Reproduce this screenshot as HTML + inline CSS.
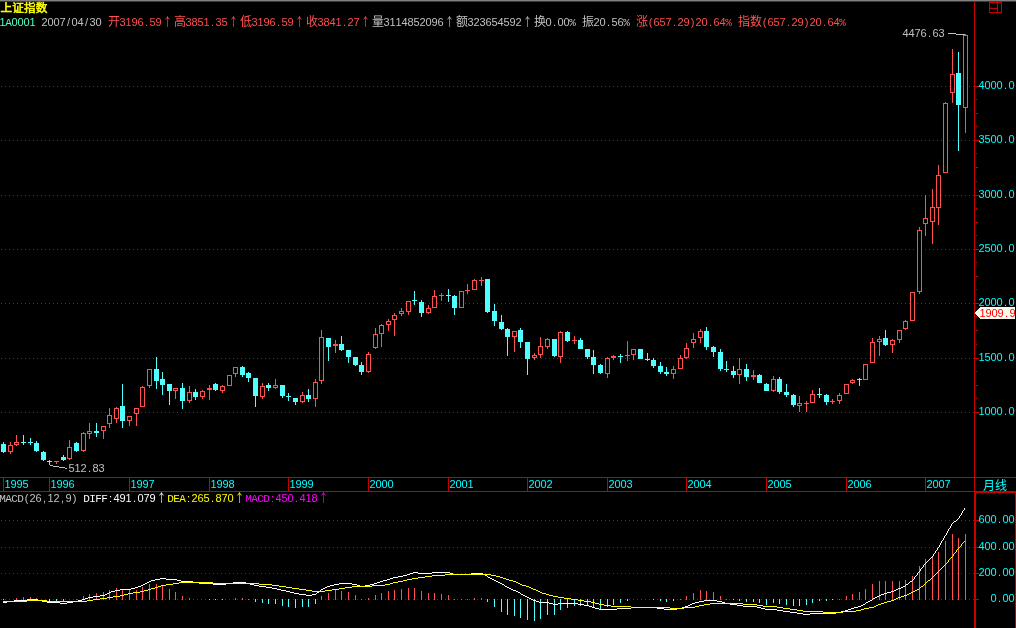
<!DOCTYPE html>
<html lang="zh"><head><meta charset="utf-8"><title>上证指数 月线</title>
<style>html,body{margin:0;padding:0;background:#000;overflow:hidden}svg{display:block}text{white-space:pre}</style></head>
<body><svg width="1016" height="628" viewBox="0 0 1016 628" shape-rendering="crispEdges">
<rect width="1016" height="628" fill="#000"/>
<rect x="0" y="0" width="1016" height="1" fill="#808080"/>
<rect x="0" y="1" width="1016" height="1" fill="#c80000"/>
<rect x="974" y="2" width="1" height="489" fill="#c80000"/>
<rect x="974" y="491" width="2" height="137" fill="#c80000"/>
<rect x="0" y="477" width="1016" height="1" fill="#c80000"/>
<rect x="0" y="491" width="974" height="1" fill="#c80000"/>
<rect x="974" y="491" width="42" height="2" fill="#c80000"/>
<rect x="1015" y="491" width="1" height="137" fill="#c80000"/>
<rect x="989" y="2" width="13" height="1" fill="#c80000"/>
<rect x="989" y="12" width="13" height="1" fill="#c80000"/>
<rect x="989" y="2" width="1" height="11" fill="#c80000"/>
<rect x="1001" y="2" width="1" height="11" fill="#c80000"/>
<rect x="997" y="2" width="1" height="11" fill="#c80000"/>
<rect x="989" y="8" width="9" height="1" fill="#c80000"/>
<path d="M1 86.5H974" stroke="#c80000" stroke-width="1" stroke-dasharray="1 3" fill="none"/>
<rect x="973" y="86" width="6" height="1" fill="#c80000"/>
<text x="981.6 987.6 993.6 999.6 1005.6 1011.6" y="89" text-anchor="middle" font-family='"Liberation Sans", sans-serif' font-size="11" fill="#00ffff">4000.0</text>
<path d="M1 140.5H974" stroke="#c80000" stroke-width="1" stroke-dasharray="1 3" fill="none"/>
<rect x="973" y="140" width="6" height="1" fill="#c80000"/>
<text x="981.6 987.6 993.6 999.6 1005.6 1011.6" y="143" text-anchor="middle" font-family='"Liberation Sans", sans-serif' font-size="11" fill="#00ffff">3500.0</text>
<path d="M1 195.5H974" stroke="#c80000" stroke-width="1" stroke-dasharray="1 3" fill="none"/>
<rect x="973" y="195" width="6" height="1" fill="#c80000"/>
<text x="981.6 987.6 993.6 999.6 1005.6 1011.6" y="198" text-anchor="middle" font-family='"Liberation Sans", sans-serif' font-size="11" fill="#00ffff">3000.0</text>
<path d="M1 249.5H974" stroke="#c80000" stroke-width="1" stroke-dasharray="1 3" fill="none"/>
<rect x="973" y="249" width="6" height="1" fill="#c80000"/>
<text x="981.6 987.6 993.6 999.6 1005.6 1011.6" y="252" text-anchor="middle" font-family='"Liberation Sans", sans-serif' font-size="11" fill="#00ffff">2500.0</text>
<path d="M1 303.5H974" stroke="#c80000" stroke-width="1" stroke-dasharray="1 3" fill="none"/>
<rect x="973" y="303" width="6" height="1" fill="#c80000"/>
<text x="981.6 987.6 993.6 999.6 1005.6 1011.6" y="306" text-anchor="middle" font-family='"Liberation Sans", sans-serif' font-size="11" fill="#00ffff">2000.0</text>
<path d="M1 358.5H974" stroke="#c80000" stroke-width="1" stroke-dasharray="1 3" fill="none"/>
<rect x="973" y="358" width="6" height="1" fill="#c80000"/>
<text x="981.6 987.6 993.6 999.6 1005.6 1011.6" y="361" text-anchor="middle" font-family='"Liberation Sans", sans-serif' font-size="11" fill="#00ffff">1500.0</text>
<path d="M1 412.5H974" stroke="#c80000" stroke-width="1" stroke-dasharray="1 3" fill="none"/>
<rect x="973" y="412" width="6" height="1" fill="#c80000"/>
<text x="981.6 987.6 993.6 999.6 1005.6 1011.6" y="415" text-anchor="middle" font-family='"Liberation Sans", sans-serif' font-size="11" fill="#00ffff">1000.0</text>
<rect x="976" y="99" width="1" height="1" fill="#c80000"/>
<rect x="976" y="113" width="2" height="1" fill="#c80000"/>
<rect x="976" y="126" width="1" height="1" fill="#c80000"/>
<rect x="976" y="153" width="1" height="1" fill="#c80000"/>
<rect x="976" y="167" width="2" height="1" fill="#c80000"/>
<rect x="976" y="181" width="1" height="1" fill="#c80000"/>
<rect x="976" y="208" width="1" height="1" fill="#c80000"/>
<rect x="976" y="222" width="2" height="1" fill="#c80000"/>
<rect x="976" y="235" width="1" height="1" fill="#c80000"/>
<rect x="976" y="262" width="1" height="1" fill="#c80000"/>
<rect x="976" y="276" width="2" height="1" fill="#c80000"/>
<rect x="976" y="289" width="1" height="1" fill="#c80000"/>
<rect x="976" y="316" width="1" height="1" fill="#c80000"/>
<rect x="976" y="330" width="2" height="1" fill="#c80000"/>
<rect x="976" y="344" width="1" height="1" fill="#c80000"/>
<rect x="976" y="371" width="1" height="1" fill="#c80000"/>
<rect x="976" y="385" width="2" height="1" fill="#c80000"/>
<rect x="976" y="398" width="1" height="1" fill="#c80000"/>
<path d="M1 520.5H974" stroke="#c80000" stroke-width="1" stroke-dasharray="1 3" fill="none"/>
<rect x="973" y="520" width="6" height="1" fill="#c80000"/>
<text x="981.6 987.6 993.6 999.6 1005.6 1011.6" y="523" text-anchor="middle" font-family='"Liberation Sans", sans-serif' font-size="11" fill="#00ffff">600.00</text>
<path d="M1 547.5H974" stroke="#c80000" stroke-width="1" stroke-dasharray="1 3" fill="none"/>
<rect x="973" y="547" width="6" height="1" fill="#c80000"/>
<text x="981.6 987.6 993.6 999.6 1005.6 1011.6" y="550" text-anchor="middle" font-family='"Liberation Sans", sans-serif' font-size="11" fill="#00ffff">400.00</text>
<path d="M1 573.5H974" stroke="#c80000" stroke-width="1" stroke-dasharray="1 3" fill="none"/>
<rect x="973" y="573" width="6" height="1" fill="#c80000"/>
<text x="981.6 987.6 993.6 999.6 1005.6 1011.6" y="576" text-anchor="middle" font-family='"Liberation Sans", sans-serif' font-size="11" fill="#00ffff">200.00</text>
<path d="M1 599.5H974" stroke="#c80000" stroke-width="1" stroke-dasharray="1 3" fill="none"/>
<rect x="973" y="599" width="6" height="1" fill="#c80000"/>
<text x="993.6 999.6 1005.6 1011.6" y="602" text-anchor="middle" font-family='"Liberation Sans", sans-serif' font-size="11" fill="#00ffff">0.00</text>
<rect x="3" y="442" width="1" height="11" fill="#50ffff"/>
<rect x="1" y="444" width="5" height="8" fill="#50ffff"/>
<rect x="10" y="442" width="1" height="3" fill="#ff5050"/>
<rect x="10" y="452" width="1" height="2" fill="#ff5050"/>
<rect x="8" y="445" width="5" height="7" fill="#ff5050"/>
<rect x="9" y="446" width="3" height="5" fill="#000"/>
<rect x="16" y="435" width="1" height="7" fill="#ff5050"/>
<rect x="16" y="445" width="1" height="1" fill="#ff5050"/>
<rect x="14" y="442" width="5" height="3" fill="#ff5050"/>
<rect x="15" y="443" width="3" height="1" fill="#000"/>
<rect x="23" y="435" width="1" height="10" fill="#50ffff"/>
<rect x="21" y="442" width="5" height="1" fill="#50ffff"/>
<rect x="30" y="438" width="1" height="7" fill="#50ffff"/>
<rect x="28" y="442" width="5" height="1" fill="#50ffff"/>
<rect x="36" y="441" width="1" height="11" fill="#50ffff"/>
<rect x="34" y="443" width="5" height="8" fill="#50ffff"/>
<rect x="43" y="451" width="1" height="10" fill="#50ffff"/>
<rect x="41" y="452" width="5" height="8" fill="#50ffff"/>
<rect x="49" y="460" width="1" height="5" fill="#50ffff"/>
<rect x="47" y="461" width="5" height="1" fill="#50ffff"/>
<rect x="56" y="462" width="1" height="2" fill="#ff5050"/>
<rect x="54" y="461" width="5" height="1" fill="#ff5050"/>
<rect x="63" y="455" width="1" height="6" fill="#50ffff"/>
<rect x="61" y="457" width="5" height="3" fill="#50ffff"/>
<rect x="69" y="440" width="1" height="7" fill="#ff5050"/>
<rect x="69" y="459" width="1" height="1" fill="#ff5050"/>
<rect x="67" y="447" width="5" height="12" fill="#ff5050"/>
<rect x="68" y="448" width="3" height="10" fill="#000"/>
<rect x="76" y="442" width="1" height="10" fill="#50ffff"/>
<rect x="74" y="443" width="5" height="8" fill="#50ffff"/>
<rect x="83" y="432" width="1" height="1" fill="#ff5050"/>
<rect x="83" y="451" width="1" height="1" fill="#ff5050"/>
<rect x="81" y="433" width="5" height="18" fill="#ff5050"/>
<rect x="82" y="434" width="3" height="16" fill="#000"/>
<rect x="89" y="423" width="1" height="8" fill="#ff5050"/>
<rect x="89" y="434" width="1" height="5" fill="#ff5050"/>
<rect x="87" y="431" width="5" height="3" fill="#ff5050"/>
<rect x="88" y="432" width="3" height="1" fill="#000"/>
<rect x="96" y="423" width="1" height="14" fill="#50ffff"/>
<rect x="94" y="431" width="5" height="2" fill="#50ffff"/>
<rect x="103" y="431" width="1" height="8" fill="#ff5050"/>
<rect x="101" y="426" width="5" height="5" fill="#ff5050"/>
<rect x="102" y="427" width="3" height="3" fill="#000"/>
<rect x="109" y="408" width="1" height="7" fill="#ff5050"/>
<rect x="109" y="424" width="1" height="4" fill="#ff5050"/>
<rect x="107" y="415" width="5" height="9" fill="#ff5050"/>
<rect x="108" y="416" width="3" height="7" fill="#000"/>
<rect x="116" y="407" width="1" height="1" fill="#ff5050"/>
<rect x="116" y="419" width="1" height="4" fill="#ff5050"/>
<rect x="114" y="408" width="5" height="11" fill="#ff5050"/>
<rect x="115" y="409" width="3" height="9" fill="#000"/>
<rect x="122" y="384" width="1" height="44" fill="#50ffff"/>
<rect x="120" y="406" width="5" height="15" fill="#50ffff"/>
<rect x="129" y="421" width="1" height="5" fill="#ff5050"/>
<rect x="127" y="416" width="5" height="5" fill="#ff5050"/>
<rect x="128" y="417" width="3" height="3" fill="#000"/>
<rect x="136" y="414" width="1" height="12" fill="#ff5050"/>
<rect x="134" y="408" width="5" height="6" fill="#ff5050"/>
<rect x="135" y="409" width="3" height="4" fill="#000"/>
<rect x="142" y="386" width="1" height="1" fill="#ff5050"/>
<rect x="140" y="387" width="5" height="20" fill="#ff5050"/>
<rect x="141" y="388" width="3" height="18" fill="#000"/>
<rect x="149" y="386" width="1" height="2" fill="#ff5050"/>
<rect x="147" y="369" width="5" height="17" fill="#ff5050"/>
<rect x="148" y="370" width="3" height="15" fill="#000"/>
<rect x="156" y="357" width="1" height="32" fill="#50ffff"/>
<rect x="154" y="369" width="5" height="12" fill="#50ffff"/>
<rect x="162" y="372" width="1" height="23" fill="#50ffff"/>
<rect x="160" y="379" width="5" height="6" fill="#50ffff"/>
<rect x="169" y="384" width="1" height="21" fill="#50ffff"/>
<rect x="167" y="384" width="5" height="7" fill="#50ffff"/>
<rect x="175" y="391" width="1" height="8" fill="#ff5050"/>
<rect x="173" y="388" width="5" height="3" fill="#ff5050"/>
<rect x="174" y="389" width="3" height="1" fill="#000"/>
<rect x="182" y="383" width="1" height="26" fill="#50ffff"/>
<rect x="180" y="388" width="5" height="13" fill="#50ffff"/>
<rect x="189" y="386" width="1" height="6" fill="#ff5050"/>
<rect x="189" y="401" width="1" height="2" fill="#ff5050"/>
<rect x="187" y="392" width="5" height="9" fill="#ff5050"/>
<rect x="188" y="393" width="3" height="7" fill="#000"/>
<rect x="195" y="389" width="1" height="11" fill="#50ffff"/>
<rect x="193" y="392" width="5" height="5" fill="#50ffff"/>
<rect x="202" y="390" width="1" height="1" fill="#ff5050"/>
<rect x="202" y="397" width="1" height="2" fill="#ff5050"/>
<rect x="200" y="391" width="5" height="6" fill="#ff5050"/>
<rect x="201" y="392" width="3" height="4" fill="#000"/>
<rect x="209" y="385" width="1" height="3" fill="#ff5050"/>
<rect x="209" y="390" width="1" height="10" fill="#ff5050"/>
<rect x="207" y="388" width="5" height="2" fill="#ff5050"/>
<rect x="215" y="383" width="1" height="8" fill="#50ffff"/>
<rect x="213" y="384" width="5" height="6" fill="#50ffff"/>
<rect x="222" y="385" width="1" height="1" fill="#ff5050"/>
<rect x="222" y="391" width="1" height="2" fill="#ff5050"/>
<rect x="220" y="386" width="5" height="5" fill="#ff5050"/>
<rect x="221" y="387" width="3" height="3" fill="#000"/>
<rect x="227" y="375" width="5" height="11" fill="#ff5050"/>
<rect x="228" y="376" width="3" height="9" fill="#000"/>
<rect x="235" y="374" width="1" height="3" fill="#ff5050"/>
<rect x="233" y="367" width="5" height="7" fill="#ff5050"/>
<rect x="234" y="368" width="3" height="5" fill="#000"/>
<rect x="242" y="366" width="1" height="11" fill="#50ffff"/>
<rect x="240" y="367" width="5" height="8" fill="#50ffff"/>
<rect x="248" y="372" width="1" height="10" fill="#50ffff"/>
<rect x="246" y="373" width="5" height="5" fill="#50ffff"/>
<rect x="255" y="378" width="1" height="29" fill="#50ffff"/>
<rect x="253" y="378" width="5" height="18" fill="#50ffff"/>
<rect x="262" y="383" width="1" height="3" fill="#ff5050"/>
<rect x="262" y="397" width="1" height="2" fill="#ff5050"/>
<rect x="260" y="386" width="5" height="11" fill="#ff5050"/>
<rect x="261" y="387" width="3" height="9" fill="#000"/>
<rect x="268" y="383" width="1" height="8" fill="#50ffff"/>
<rect x="266" y="385" width="5" height="3" fill="#50ffff"/>
<rect x="275" y="379" width="1" height="6" fill="#ff5050"/>
<rect x="275" y="388" width="1" height="1" fill="#ff5050"/>
<rect x="273" y="385" width="5" height="3" fill="#ff5050"/>
<rect x="274" y="386" width="3" height="1" fill="#000"/>
<rect x="282" y="385" width="1" height="13" fill="#50ffff"/>
<rect x="280" y="385" width="5" height="11" fill="#50ffff"/>
<rect x="288" y="393" width="1" height="8" fill="#50ffff"/>
<rect x="286" y="396" width="5" height="1" fill="#50ffff"/>
<rect x="295" y="398" width="1" height="7" fill="#50ffff"/>
<rect x="293" y="398" width="5" height="4" fill="#50ffff"/>
<rect x="302" y="392" width="1" height="3" fill="#ff5050"/>
<rect x="302" y="402" width="1" height="1" fill="#ff5050"/>
<rect x="300" y="395" width="5" height="7" fill="#ff5050"/>
<rect x="301" y="396" width="3" height="5" fill="#000"/>
<rect x="308" y="389" width="1" height="13" fill="#50ffff"/>
<rect x="306" y="395" width="5" height="4" fill="#50ffff"/>
<rect x="315" y="379" width="1" height="3" fill="#ff5050"/>
<rect x="315" y="399" width="1" height="8" fill="#ff5050"/>
<rect x="313" y="382" width="5" height="17" fill="#ff5050"/>
<rect x="314" y="383" width="3" height="15" fill="#000"/>
<rect x="321" y="330" width="1" height="7" fill="#ff5050"/>
<rect x="321" y="381" width="1" height="3" fill="#ff5050"/>
<rect x="319" y="337" width="5" height="44" fill="#ff5050"/>
<rect x="320" y="338" width="3" height="42" fill="#000"/>
<rect x="328" y="338" width="1" height="23" fill="#50ffff"/>
<rect x="326" y="338" width="5" height="9" fill="#50ffff"/>
<rect x="335" y="340" width="1" height="4" fill="#ff5050"/>
<rect x="335" y="346" width="1" height="7" fill="#ff5050"/>
<rect x="333" y="344" width="5" height="2" fill="#ff5050"/>
<rect x="341" y="336" width="1" height="15" fill="#50ffff"/>
<rect x="339" y="344" width="5" height="6" fill="#50ffff"/>
<rect x="348" y="350" width="1" height="13" fill="#50ffff"/>
<rect x="346" y="350" width="5" height="7" fill="#50ffff"/>
<rect x="355" y="357" width="1" height="9" fill="#50ffff"/>
<rect x="353" y="357" width="5" height="8" fill="#50ffff"/>
<rect x="361" y="362" width="1" height="13" fill="#50ffff"/>
<rect x="359" y="365" width="5" height="7" fill="#50ffff"/>
<rect x="368" y="352" width="1" height="2" fill="#ff5050"/>
<rect x="368" y="372" width="1" height="1" fill="#ff5050"/>
<rect x="366" y="354" width="5" height="18" fill="#ff5050"/>
<rect x="367" y="355" width="3" height="16" fill="#000"/>
<rect x="375" y="328" width="1" height="6" fill="#ff5050"/>
<rect x="375" y="348" width="1" height="1" fill="#ff5050"/>
<rect x="373" y="334" width="5" height="14" fill="#ff5050"/>
<rect x="374" y="335" width="3" height="12" fill="#000"/>
<rect x="381" y="324" width="1" height="1" fill="#ff5050"/>
<rect x="381" y="334" width="1" height="13" fill="#ff5050"/>
<rect x="379" y="325" width="5" height="9" fill="#ff5050"/>
<rect x="380" y="326" width="3" height="7" fill="#000"/>
<rect x="388" y="319" width="1" height="2" fill="#ff5050"/>
<rect x="388" y="325" width="1" height="6" fill="#ff5050"/>
<rect x="386" y="321" width="5" height="4" fill="#ff5050"/>
<rect x="387" y="322" width="3" height="2" fill="#000"/>
<rect x="394" y="313" width="1" height="2" fill="#ff5050"/>
<rect x="394" y="320" width="1" height="16" fill="#ff5050"/>
<rect x="392" y="315" width="5" height="5" fill="#ff5050"/>
<rect x="393" y="316" width="3" height="3" fill="#000"/>
<rect x="401" y="308" width="1" height="3" fill="#ff5050"/>
<rect x="401" y="314" width="1" height="2" fill="#ff5050"/>
<rect x="399" y="311" width="5" height="3" fill="#ff5050"/>
<rect x="400" y="312" width="3" height="1" fill="#000"/>
<rect x="408" y="312" width="1" height="3" fill="#ff5050"/>
<rect x="406" y="301" width="5" height="11" fill="#ff5050"/>
<rect x="407" y="302" width="3" height="9" fill="#000"/>
<rect x="414" y="291" width="1" height="14" fill="#50ffff"/>
<rect x="412" y="300" width="5" height="1" fill="#50ffff"/>
<rect x="421" y="300" width="1" height="17" fill="#50ffff"/>
<rect x="419" y="302" width="5" height="11" fill="#50ffff"/>
<rect x="428" y="305" width="1" height="3" fill="#ff5050"/>
<rect x="428" y="313" width="1" height="1" fill="#ff5050"/>
<rect x="426" y="308" width="5" height="5" fill="#ff5050"/>
<rect x="427" y="309" width="3" height="3" fill="#000"/>
<rect x="434" y="290" width="1" height="6" fill="#ff5050"/>
<rect x="432" y="296" width="5" height="12" fill="#ff5050"/>
<rect x="433" y="297" width="3" height="10" fill="#000"/>
<rect x="441" y="293" width="1" height="2" fill="#ff5050"/>
<rect x="441" y="296" width="1" height="5" fill="#ff5050"/>
<rect x="439" y="295" width="5" height="1" fill="#ff5050"/>
<rect x="448" y="289" width="1" height="13" fill="#50ffff"/>
<rect x="446" y="295" width="5" height="1" fill="#50ffff"/>
<rect x="454" y="295" width="1" height="20" fill="#50ffff"/>
<rect x="452" y="296" width="5" height="12" fill="#50ffff"/>
<rect x="459" y="291" width="5" height="17" fill="#ff5050"/>
<rect x="460" y="292" width="3" height="15" fill="#000"/>
<rect x="467" y="284" width="1" height="6" fill="#ff5050"/>
<rect x="467" y="291" width="1" height="3" fill="#ff5050"/>
<rect x="465" y="290" width="5" height="1" fill="#ff5050"/>
<rect x="474" y="279" width="1" height="1" fill="#ff5050"/>
<rect x="472" y="280" width="5" height="10" fill="#ff5050"/>
<rect x="473" y="281" width="3" height="8" fill="#000"/>
<rect x="481" y="277" width="1" height="3" fill="#ff5050"/>
<rect x="481" y="281" width="1" height="5" fill="#ff5050"/>
<rect x="479" y="280" width="5" height="1" fill="#ff5050"/>
<rect x="487" y="279" width="1" height="34" fill="#50ffff"/>
<rect x="485" y="279" width="5" height="33" fill="#50ffff"/>
<rect x="494" y="304" width="1" height="22" fill="#50ffff"/>
<rect x="492" y="311" width="5" height="10" fill="#50ffff"/>
<rect x="501" y="315" width="1" height="15" fill="#50ffff"/>
<rect x="499" y="322" width="5" height="7" fill="#50ffff"/>
<rect x="507" y="328" width="1" height="28" fill="#50ffff"/>
<rect x="505" y="329" width="5" height="8" fill="#50ffff"/>
<rect x="514" y="337" width="1" height="15" fill="#ff5050"/>
<rect x="512" y="331" width="5" height="6" fill="#ff5050"/>
<rect x="513" y="332" width="3" height="4" fill="#000"/>
<rect x="520" y="328" width="1" height="20" fill="#50ffff"/>
<rect x="518" y="330" width="5" height="12" fill="#50ffff"/>
<rect x="527" y="342" width="1" height="33" fill="#50ffff"/>
<rect x="525" y="342" width="5" height="17" fill="#50ffff"/>
<rect x="534" y="353" width="1" height="2" fill="#ff5050"/>
<rect x="534" y="358" width="1" height="2" fill="#ff5050"/>
<rect x="532" y="355" width="5" height="3" fill="#ff5050"/>
<rect x="533" y="356" width="3" height="1" fill="#000"/>
<rect x="540" y="337" width="1" height="9" fill="#ff5050"/>
<rect x="540" y="355" width="1" height="3" fill="#ff5050"/>
<rect x="538" y="346" width="5" height="9" fill="#ff5050"/>
<rect x="539" y="347" width="3" height="7" fill="#000"/>
<rect x="547" y="338" width="1" height="1" fill="#ff5050"/>
<rect x="547" y="347" width="1" height="2" fill="#ff5050"/>
<rect x="545" y="339" width="5" height="8" fill="#ff5050"/>
<rect x="546" y="340" width="3" height="6" fill="#000"/>
<rect x="554" y="339" width="1" height="18" fill="#50ffff"/>
<rect x="552" y="339" width="5" height="17" fill="#50ffff"/>
<rect x="560" y="331" width="1" height="1" fill="#ff5050"/>
<rect x="560" y="357" width="1" height="6" fill="#ff5050"/>
<rect x="558" y="332" width="5" height="25" fill="#ff5050"/>
<rect x="559" y="333" width="3" height="23" fill="#000"/>
<rect x="567" y="331" width="1" height="11" fill="#50ffff"/>
<rect x="565" y="332" width="5" height="9" fill="#50ffff"/>
<rect x="574" y="336" width="1" height="4" fill="#ff5050"/>
<rect x="574" y="341" width="1" height="3" fill="#ff5050"/>
<rect x="572" y="340" width="5" height="1" fill="#ff5050"/>
<rect x="580" y="338" width="1" height="11" fill="#50ffff"/>
<rect x="578" y="340" width="5" height="9" fill="#50ffff"/>
<rect x="587" y="349" width="1" height="10" fill="#50ffff"/>
<rect x="585" y="349" width="5" height="8" fill="#50ffff"/>
<rect x="593" y="350" width="1" height="24" fill="#50ffff"/>
<rect x="591" y="357" width="5" height="8" fill="#50ffff"/>
<rect x="600" y="364" width="1" height="10" fill="#50ffff"/>
<rect x="598" y="365" width="5" height="8" fill="#50ffff"/>
<rect x="607" y="357" width="1" height="1" fill="#ff5050"/>
<rect x="607" y="374" width="1" height="4" fill="#ff5050"/>
<rect x="605" y="358" width="5" height="16" fill="#ff5050"/>
<rect x="606" y="359" width="3" height="14" fill="#000"/>
<rect x="613" y="355" width="1" height="1" fill="#ff5050"/>
<rect x="613" y="358" width="1" height="2" fill="#ff5050"/>
<rect x="611" y="356" width="5" height="2" fill="#ff5050"/>
<rect x="620" y="354" width="1" height="9" fill="#50ffff"/>
<rect x="618" y="356" width="5" height="1" fill="#50ffff"/>
<rect x="627" y="341" width="1" height="14" fill="#ff5050"/>
<rect x="627" y="356" width="1" height="5" fill="#ff5050"/>
<rect x="625" y="355" width="5" height="1" fill="#ff5050"/>
<rect x="633" y="355" width="1" height="5" fill="#ff5050"/>
<rect x="631" y="349" width="5" height="6" fill="#ff5050"/>
<rect x="632" y="350" width="3" height="4" fill="#000"/>
<rect x="640" y="349" width="1" height="10" fill="#50ffff"/>
<rect x="638" y="349" width="5" height="10" fill="#50ffff"/>
<rect x="647" y="353" width="1" height="8" fill="#50ffff"/>
<rect x="645" y="359" width="5" height="1" fill="#50ffff"/>
<rect x="653" y="358" width="1" height="10" fill="#50ffff"/>
<rect x="651" y="360" width="5" height="6" fill="#50ffff"/>
<rect x="660" y="362" width="1" height="12" fill="#50ffff"/>
<rect x="658" y="366" width="5" height="6" fill="#50ffff"/>
<rect x="666" y="367" width="1" height="9" fill="#50ffff"/>
<rect x="664" y="372" width="5" height="2" fill="#50ffff"/>
<rect x="673" y="366" width="1" height="3" fill="#ff5050"/>
<rect x="673" y="374" width="1" height="5" fill="#ff5050"/>
<rect x="671" y="369" width="5" height="5" fill="#ff5050"/>
<rect x="672" y="370" width="3" height="3" fill="#000"/>
<rect x="680" y="355" width="1" height="3" fill="#ff5050"/>
<rect x="678" y="358" width="5" height="11" fill="#ff5050"/>
<rect x="679" y="359" width="3" height="9" fill="#000"/>
<rect x="686" y="343" width="1" height="5" fill="#ff5050"/>
<rect x="686" y="358" width="1" height="1" fill="#ff5050"/>
<rect x="684" y="348" width="5" height="10" fill="#ff5050"/>
<rect x="685" y="349" width="3" height="8" fill="#000"/>
<rect x="693" y="333" width="1" height="6" fill="#ff5050"/>
<rect x="693" y="343" width="1" height="5" fill="#ff5050"/>
<rect x="691" y="339" width="5" height="4" fill="#ff5050"/>
<rect x="692" y="340" width="3" height="2" fill="#000"/>
<rect x="700" y="329" width="1" height="2" fill="#ff5050"/>
<rect x="700" y="338" width="1" height="5" fill="#ff5050"/>
<rect x="698" y="331" width="5" height="7" fill="#ff5050"/>
<rect x="699" y="332" width="3" height="5" fill="#000"/>
<rect x="706" y="327" width="1" height="23" fill="#50ffff"/>
<rect x="704" y="331" width="5" height="16" fill="#50ffff"/>
<rect x="713" y="346" width="1" height="11" fill="#50ffff"/>
<rect x="711" y="347" width="5" height="5" fill="#50ffff"/>
<rect x="720" y="349" width="1" height="22" fill="#50ffff"/>
<rect x="718" y="352" width="5" height="17" fill="#50ffff"/>
<rect x="726" y="361" width="1" height="11" fill="#50ffff"/>
<rect x="724" y="369" width="5" height="1" fill="#50ffff"/>
<rect x="733" y="366" width="1" height="12" fill="#50ffff"/>
<rect x="731" y="371" width="5" height="4" fill="#50ffff"/>
<rect x="739" y="358" width="1" height="11" fill="#ff5050"/>
<rect x="739" y="375" width="1" height="9" fill="#ff5050"/>
<rect x="737" y="369" width="5" height="6" fill="#ff5050"/>
<rect x="738" y="370" width="3" height="4" fill="#000"/>
<rect x="746" y="364" width="1" height="17" fill="#50ffff"/>
<rect x="744" y="369" width="5" height="8" fill="#50ffff"/>
<rect x="753" y="370" width="1" height="5" fill="#ff5050"/>
<rect x="753" y="377" width="1" height="3" fill="#ff5050"/>
<rect x="751" y="375" width="5" height="2" fill="#ff5050"/>
<rect x="759" y="374" width="1" height="9" fill="#50ffff"/>
<rect x="757" y="375" width="5" height="8" fill="#50ffff"/>
<rect x="766" y="383" width="1" height="8" fill="#50ffff"/>
<rect x="764" y="384" width="5" height="7" fill="#50ffff"/>
<rect x="773" y="376" width="1" height="3" fill="#ff5050"/>
<rect x="773" y="391" width="1" height="1" fill="#ff5050"/>
<rect x="771" y="379" width="5" height="12" fill="#ff5050"/>
<rect x="772" y="380" width="3" height="10" fill="#000"/>
<rect x="779" y="377" width="1" height="17" fill="#50ffff"/>
<rect x="777" y="379" width="5" height="13" fill="#50ffff"/>
<rect x="786" y="384" width="1" height="13" fill="#50ffff"/>
<rect x="784" y="392" width="5" height="3" fill="#50ffff"/>
<rect x="793" y="394" width="1" height="13" fill="#50ffff"/>
<rect x="791" y="395" width="5" height="10" fill="#50ffff"/>
<rect x="799" y="396" width="1" height="7" fill="#ff5050"/>
<rect x="799" y="406" width="1" height="6" fill="#ff5050"/>
<rect x="797" y="403" width="5" height="3" fill="#ff5050"/>
<rect x="798" y="404" width="3" height="1" fill="#000"/>
<rect x="806" y="401" width="1" height="2" fill="#ff5050"/>
<rect x="806" y="404" width="1" height="8" fill="#ff5050"/>
<rect x="804" y="403" width="5" height="1" fill="#ff5050"/>
<rect x="812" y="390" width="1" height="4" fill="#ff5050"/>
<rect x="810" y="394" width="5" height="9" fill="#ff5050"/>
<rect x="811" y="395" width="3" height="7" fill="#000"/>
<rect x="819" y="388" width="1" height="10" fill="#50ffff"/>
<rect x="817" y="394" width="5" height="1" fill="#50ffff"/>
<rect x="826" y="394" width="1" height="11" fill="#50ffff"/>
<rect x="824" y="395" width="5" height="7" fill="#50ffff"/>
<rect x="832" y="399" width="1" height="2" fill="#ff5050"/>
<rect x="832" y="402" width="1" height="2" fill="#ff5050"/>
<rect x="830" y="401" width="5" height="1" fill="#ff5050"/>
<rect x="839" y="393" width="1" height="2" fill="#ff5050"/>
<rect x="839" y="401" width="1" height="3" fill="#ff5050"/>
<rect x="837" y="395" width="5" height="6" fill="#ff5050"/>
<rect x="838" y="396" width="3" height="4" fill="#000"/>
<rect x="844" y="384" width="5" height="10" fill="#ff5050"/>
<rect x="845" y="385" width="3" height="8" fill="#000"/>
<rect x="852" y="379" width="1" height="1" fill="#ff5050"/>
<rect x="852" y="383" width="1" height="1" fill="#ff5050"/>
<rect x="850" y="380" width="5" height="3" fill="#ff5050"/>
<rect x="851" y="381" width="3" height="1" fill="#000"/>
<rect x="859" y="378" width="1" height="8" fill="#50ffff"/>
<rect x="857" y="379" width="5" height="1" fill="#50ffff"/>
<rect x="863" y="364" width="5" height="16" fill="#ff5050"/>
<rect x="864" y="365" width="3" height="14" fill="#000"/>
<rect x="872" y="338" width="1" height="4" fill="#ff5050"/>
<rect x="870" y="342" width="5" height="21" fill="#ff5050"/>
<rect x="871" y="343" width="3" height="19" fill="#000"/>
<rect x="879" y="336" width="1" height="3" fill="#ff5050"/>
<rect x="879" y="342" width="1" height="14" fill="#ff5050"/>
<rect x="877" y="339" width="5" height="3" fill="#ff5050"/>
<rect x="878" y="340" width="3" height="1" fill="#000"/>
<rect x="885" y="330" width="1" height="16" fill="#50ffff"/>
<rect x="883" y="338" width="5" height="7" fill="#50ffff"/>
<rect x="892" y="339" width="1" height="1" fill="#ff5050"/>
<rect x="892" y="345" width="1" height="8" fill="#ff5050"/>
<rect x="890" y="340" width="5" height="5" fill="#ff5050"/>
<rect x="891" y="341" width="3" height="3" fill="#000"/>
<rect x="899" y="340" width="1" height="3" fill="#ff5050"/>
<rect x="897" y="330" width="5" height="10" fill="#ff5050"/>
<rect x="898" y="331" width="3" height="8" fill="#000"/>
<rect x="905" y="320" width="1" height="1" fill="#ff5050"/>
<rect x="905" y="329" width="1" height="1" fill="#ff5050"/>
<rect x="903" y="321" width="5" height="8" fill="#ff5050"/>
<rect x="904" y="322" width="3" height="6" fill="#000"/>
<rect x="910" y="292" width="5" height="29" fill="#ff5050"/>
<rect x="911" y="293" width="3" height="27" fill="#000"/>
<rect x="919" y="227" width="1" height="3" fill="#ff5050"/>
<rect x="919" y="292" width="1" height="2" fill="#ff5050"/>
<rect x="917" y="230" width="5" height="62" fill="#ff5050"/>
<rect x="918" y="231" width="3" height="60" fill="#000"/>
<rect x="925" y="195" width="1" height="23" fill="#ff5050"/>
<rect x="925" y="224" width="1" height="12" fill="#ff5050"/>
<rect x="923" y="218" width="5" height="6" fill="#ff5050"/>
<rect x="924" y="219" width="3" height="4" fill="#000"/>
<rect x="932" y="189" width="1" height="18" fill="#ff5050"/>
<rect x="932" y="222" width="1" height="22" fill="#ff5050"/>
<rect x="930" y="207" width="5" height="15" fill="#ff5050"/>
<rect x="931" y="208" width="3" height="13" fill="#000"/>
<rect x="938" y="165" width="1" height="10" fill="#ff5050"/>
<rect x="938" y="208" width="1" height="17" fill="#ff5050"/>
<rect x="936" y="175" width="5" height="33" fill="#ff5050"/>
<rect x="937" y="176" width="3" height="31" fill="#000"/>
<rect x="945" y="102" width="1" height="1" fill="#ff5050"/>
<rect x="943" y="103" width="5" height="70" fill="#ff5050"/>
<rect x="944" y="104" width="3" height="68" fill="#000"/>
<rect x="952" y="49" width="1" height="25" fill="#ff5050"/>
<rect x="952" y="93" width="1" height="10" fill="#ff5050"/>
<rect x="950" y="74" width="5" height="19" fill="#ff5050"/>
<rect x="951" y="75" width="3" height="17" fill="#000"/>
<rect x="958" y="52" width="1" height="99" fill="#50ffff"/>
<rect x="956" y="73" width="5" height="32" fill="#50ffff"/>
<rect x="965" y="34" width="1" height="1" fill="#ff5050"/>
<rect x="965" y="108" width="1" height="25" fill="#ff5050"/>
<rect x="963" y="35" width="5" height="73" fill="#ff5050"/>
<rect x="964" y="36" width="3" height="71" fill="#000"/>
<text x="905.6 911.6 917.6 923.6 929.6 935.6 941.6" y="37" text-anchor="middle" font-family='"Liberation Sans", sans-serif' font-size="11" fill="#c0c0c0">4476.63</text>
<rect x="948" y="33" width="8" height="1" fill="#c0c0c0"/>
<rect x="956" y="34" width="9" height="1" fill="#c0c0c0"/>
<text x="71.6 77.6 83.6 89.6 95.6 101.6" y="472" text-anchor="middle" font-family='"Liberation Sans", sans-serif' font-size="11" fill="#c0c0c0">512.83</text>
<rect x="50" y="465" width="3" height="1" fill="#c0c0c0"/>
<rect x="53" y="466" width="6" height="1" fill="#c0c0c0"/>
<rect x="59" y="467" width="6" height="1" fill="#c0c0c0"/>
<rect x="65" y="468" width="2" height="1" fill="#c0c0c0"/>
<path d="M974.6 313L980.6 307H1015V319H980.6Z" fill="#fafaf0"/>
<text x="982.6 988.6 994.6 1000.6 1006.6 1012.6" y="317" text-anchor="middle" font-family='"Liberation Sans", sans-serif' font-size="11" fill="#ff0000">1909.9</text>
<rect x="3" y="477" width="1" height="14" fill="#c80000"/>
<text x="7.6 13.6 19.6 25.6" y="488" text-anchor="middle" font-family='"Liberation Sans", sans-serif' font-size="11" fill="#00ffff">1995</text>
<rect x="49" y="477" width="1" height="14" fill="#c80000"/>
<text x="53.6 59.6 65.6 71.6" y="488" text-anchor="middle" font-family='"Liberation Sans", sans-serif' font-size="11" fill="#00ffff">1996</text>
<rect x="129" y="477" width="1" height="14" fill="#c80000"/>
<text x="133.6 139.6 145.6 151.6" y="488" text-anchor="middle" font-family='"Liberation Sans", sans-serif' font-size="11" fill="#00ffff">1997</text>
<rect x="209" y="477" width="1" height="14" fill="#c80000"/>
<text x="213.6 219.6 225.6 231.6" y="488" text-anchor="middle" font-family='"Liberation Sans", sans-serif' font-size="11" fill="#00ffff">1998</text>
<rect x="288" y="477" width="1" height="14" fill="#c80000"/>
<text x="292.6 298.6 304.6 310.6" y="488" text-anchor="middle" font-family='"Liberation Sans", sans-serif' font-size="11" fill="#00ffff">1999</text>
<rect x="368" y="477" width="1" height="14" fill="#c80000"/>
<text x="372.6 378.6 384.6 390.6" y="488" text-anchor="middle" font-family='"Liberation Sans", sans-serif' font-size="11" fill="#00ffff">2000</text>
<rect x="448" y="477" width="1" height="14" fill="#c80000"/>
<text x="452.6 458.6 464.6 470.6" y="488" text-anchor="middle" font-family='"Liberation Sans", sans-serif' font-size="11" fill="#00ffff">2001</text>
<rect x="527" y="477" width="1" height="14" fill="#c80000"/>
<text x="531.6 537.6 543.6 549.6" y="488" text-anchor="middle" font-family='"Liberation Sans", sans-serif' font-size="11" fill="#00ffff">2002</text>
<rect x="607" y="477" width="1" height="14" fill="#c80000"/>
<text x="611.6 617.6 623.6 629.6" y="488" text-anchor="middle" font-family='"Liberation Sans", sans-serif' font-size="11" fill="#00ffff">2003</text>
<rect x="686" y="477" width="1" height="14" fill="#c80000"/>
<text x="690.6 696.6 702.6 708.6" y="488" text-anchor="middle" font-family='"Liberation Sans", sans-serif' font-size="11" fill="#00ffff">2004</text>
<rect x="766" y="477" width="1" height="14" fill="#c80000"/>
<text x="770.6 776.6 782.6 788.6" y="488" text-anchor="middle" font-family='"Liberation Sans", sans-serif' font-size="11" fill="#00ffff">2005</text>
<rect x="846" y="477" width="1" height="14" fill="#c80000"/>
<text x="850.6 856.6 862.6 868.6" y="488" text-anchor="middle" font-family='"Liberation Sans", sans-serif' font-size="11" fill="#00ffff">2006</text>
<rect x="925" y="477" width="1" height="14" fill="#c80000"/>
<text x="929.6 935.6 941.6 947.6" y="488" text-anchor="middle" font-family='"Liberation Sans", sans-serif' font-size="11" fill="#00ffff">2007</text>
<text x="983" y="489.5" font-family='"Liberation Sans", "Noto Sans CJK SC", sans-serif' font-size="12" fill="#00ffff" textLength="24">月线</text>
<rect x="3" y="599" width="1" height="1" fill="#50ffff"/>
<rect x="16" y="598" width="1" height="2" fill="#ff5050"/>
<rect x="23" y="597" width="1" height="3" fill="#ff5050"/>
<rect x="30" y="597" width="1" height="3" fill="#ff5050"/>
<rect x="36" y="598" width="1" height="2" fill="#ff5050"/>
<rect x="49" y="599" width="1" height="2" fill="#50ffff"/>
<rect x="56" y="599" width="1" height="2" fill="#50ffff"/>
<rect x="63" y="599" width="1" height="2" fill="#50ffff"/>
<rect x="76" y="599" width="1" height="1" fill="#ff5050"/>
<rect x="83" y="596" width="1" height="4" fill="#ff5050"/>
<rect x="89" y="594" width="1" height="6" fill="#ff5050"/>
<rect x="96" y="593" width="1" height="7" fill="#ff5050"/>
<rect x="103" y="592" width="1" height="8" fill="#ff5050"/>
<rect x="109" y="590" width="1" height="10" fill="#ff5050"/>
<rect x="116" y="588" width="1" height="12" fill="#ff5050"/>
<rect x="122" y="589" width="1" height="11" fill="#ff5050"/>
<rect x="129" y="590" width="1" height="10" fill="#ff5050"/>
<rect x="136" y="590" width="1" height="10" fill="#ff5050"/>
<rect x="142" y="587" width="1" height="13" fill="#ff5050"/>
<rect x="149" y="584" width="1" height="16" fill="#ff5050"/>
<rect x="156" y="584" width="1" height="16" fill="#ff5050"/>
<rect x="162" y="586" width="1" height="14" fill="#ff5050"/>
<rect x="169" y="589" width="1" height="11" fill="#ff5050"/>
<rect x="175" y="592" width="1" height="8" fill="#ff5050"/>
<rect x="182" y="596" width="1" height="4" fill="#ff5050"/>
<rect x="189" y="598" width="1" height="2" fill="#ff5050"/>
<rect x="209" y="599" width="1" height="1" fill="#50ffff"/>
<rect x="215" y="599" width="1" height="1" fill="#50ffff"/>
<rect x="222" y="599" width="1" height="1" fill="#50ffff"/>
<rect x="235" y="598" width="1" height="2" fill="#ff5050"/>
<rect x="242" y="598" width="1" height="2" fill="#ff5050"/>
<rect x="248" y="599" width="1" height="1" fill="#ff5050"/>
<rect x="255" y="599" width="1" height="3" fill="#50ffff"/>
<rect x="262" y="599" width="1" height="4" fill="#50ffff"/>
<rect x="268" y="599" width="1" height="5" fill="#50ffff"/>
<rect x="275" y="599" width="1" height="5" fill="#50ffff"/>
<rect x="282" y="599" width="1" height="7" fill="#50ffff"/>
<rect x="288" y="599" width="1" height="8" fill="#50ffff"/>
<rect x="295" y="599" width="1" height="9" fill="#50ffff"/>
<rect x="302" y="599" width="1" height="8" fill="#50ffff"/>
<rect x="308" y="599" width="1" height="8" fill="#50ffff"/>
<rect x="315" y="599" width="1" height="5" fill="#50ffff"/>
<rect x="321" y="596" width="1" height="4" fill="#ff5050"/>
<rect x="328" y="593" width="1" height="7" fill="#ff5050"/>
<rect x="335" y="590" width="1" height="10" fill="#ff5050"/>
<rect x="341" y="591" width="1" height="9" fill="#ff5050"/>
<rect x="348" y="592" width="1" height="8" fill="#ff5050"/>
<rect x="355" y="595" width="1" height="5" fill="#ff5050"/>
<rect x="361" y="599" width="1" height="1" fill="#ff5050"/>
<rect x="368" y="598" width="1" height="2" fill="#ff5050"/>
<rect x="375" y="595" width="1" height="5" fill="#ff5050"/>
<rect x="381" y="593" width="1" height="7" fill="#ff5050"/>
<rect x="388" y="591" width="1" height="9" fill="#ff5050"/>
<rect x="394" y="590" width="1" height="10" fill="#ff5050"/>
<rect x="401" y="589" width="1" height="11" fill="#ff5050"/>
<rect x="408" y="588" width="1" height="12" fill="#ff5050"/>
<rect x="414" y="588" width="1" height="12" fill="#ff5050"/>
<rect x="421" y="591" width="1" height="9" fill="#ff5050"/>
<rect x="428" y="593" width="1" height="7" fill="#ff5050"/>
<rect x="434" y="593" width="1" height="7" fill="#ff5050"/>
<rect x="441" y="594" width="1" height="6" fill="#ff5050"/>
<rect x="448" y="595" width="1" height="5" fill="#ff5050"/>
<rect x="454" y="599" width="1" height="1" fill="#ff5050"/>
<rect x="461" y="599" width="1" height="1" fill="#ff5050"/>
<rect x="467" y="599" width="1" height="1" fill="#ff5050"/>
<rect x="474" y="598" width="1" height="2" fill="#ff5050"/>
<rect x="481" y="598" width="1" height="2" fill="#ff5050"/>
<rect x="487" y="599" width="1" height="3" fill="#50ffff"/>
<rect x="494" y="599" width="1" height="8" fill="#50ffff"/>
<rect x="501" y="599" width="1" height="13" fill="#50ffff"/>
<rect x="507" y="599" width="1" height="16" fill="#50ffff"/>
<rect x="514" y="599" width="1" height="17" fill="#50ffff"/>
<rect x="520" y="599" width="1" height="19" fill="#50ffff"/>
<rect x="527" y="599" width="1" height="21" fill="#50ffff"/>
<rect x="534" y="599" width="1" height="22" fill="#50ffff"/>
<rect x="540" y="599" width="1" height="20" fill="#50ffff"/>
<rect x="547" y="599" width="1" height="16" fill="#50ffff"/>
<rect x="554" y="599" width="1" height="16" fill="#50ffff"/>
<rect x="560" y="599" width="1" height="11" fill="#50ffff"/>
<rect x="567" y="599" width="1" height="9" fill="#50ffff"/>
<rect x="574" y="599" width="1" height="7" fill="#50ffff"/>
<rect x="580" y="599" width="1" height="7" fill="#50ffff"/>
<rect x="587" y="599" width="1" height="7" fill="#50ffff"/>
<rect x="593" y="599" width="1" height="8" fill="#50ffff"/>
<rect x="600" y="599" width="1" height="10" fill="#50ffff"/>
<rect x="607" y="599" width="1" height="8" fill="#50ffff"/>
<rect x="613" y="599" width="1" height="6" fill="#50ffff"/>
<rect x="620" y="599" width="1" height="4" fill="#50ffff"/>
<rect x="627" y="599" width="1" height="2" fill="#50ffff"/>
<rect x="653" y="599" width="1" height="1" fill="#50ffff"/>
<rect x="660" y="599" width="1" height="2" fill="#50ffff"/>
<rect x="666" y="599" width="1" height="3" fill="#50ffff"/>
<rect x="673" y="599" width="1" height="2" fill="#50ffff"/>
<rect x="680" y="599" width="1" height="1" fill="#ff5050"/>
<rect x="686" y="596" width="1" height="4" fill="#ff5050"/>
<rect x="693" y="593" width="1" height="7" fill="#ff5050"/>
<rect x="700" y="590" width="1" height="10" fill="#ff5050"/>
<rect x="706" y="591" width="1" height="9" fill="#ff5050"/>
<rect x="713" y="592" width="1" height="8" fill="#ff5050"/>
<rect x="720" y="596" width="1" height="4" fill="#ff5050"/>
<rect x="726" y="599" width="1" height="1" fill="#ff5050"/>
<rect x="733" y="599" width="1" height="1" fill="#50ffff"/>
<rect x="739" y="599" width="1" height="2" fill="#50ffff"/>
<rect x="746" y="599" width="1" height="3" fill="#50ffff"/>
<rect x="753" y="599" width="1" height="3" fill="#50ffff"/>
<rect x="759" y="599" width="1" height="4" fill="#50ffff"/>
<rect x="766" y="599" width="1" height="6" fill="#50ffff"/>
<rect x="773" y="599" width="1" height="4" fill="#50ffff"/>
<rect x="779" y="599" width="1" height="5" fill="#50ffff"/>
<rect x="786" y="599" width="1" height="6" fill="#50ffff"/>
<rect x="793" y="599" width="1" height="7" fill="#50ffff"/>
<rect x="799" y="599" width="1" height="7" fill="#50ffff"/>
<rect x="806" y="599" width="1" height="6" fill="#50ffff"/>
<rect x="812" y="599" width="1" height="4" fill="#50ffff"/>
<rect x="819" y="599" width="1" height="2" fill="#50ffff"/>
<rect x="826" y="599" width="1" height="2" fill="#50ffff"/>
<rect x="832" y="599" width="1" height="1" fill="#50ffff"/>
<rect x="839" y="599" width="1" height="1" fill="#ff5050"/>
<rect x="846" y="596" width="1" height="4" fill="#ff5050"/>
<rect x="852" y="594" width="1" height="6" fill="#ff5050"/>
<rect x="859" y="592" width="1" height="8" fill="#ff5050"/>
<rect x="865" y="589" width="1" height="11" fill="#ff5050"/>
<rect x="872" y="584" width="1" height="16" fill="#ff5050"/>
<rect x="879" y="581" width="1" height="19" fill="#ff5050"/>
<rect x="885" y="581" width="1" height="19" fill="#ff5050"/>
<rect x="892" y="581" width="1" height="19" fill="#ff5050"/>
<rect x="899" y="581" width="1" height="19" fill="#ff5050"/>
<rect x="905" y="580" width="1" height="20" fill="#ff5050"/>
<rect x="912" y="576" width="1" height="24" fill="#ff5050"/>
<rect x="919" y="566" width="1" height="34" fill="#ff5050"/>
<rect x="925" y="559" width="1" height="41" fill="#ff5050"/>
<rect x="932" y="556" width="1" height="44" fill="#ff5050"/>
<rect x="938" y="552" width="1" height="48" fill="#ff5050"/>
<rect x="945" y="541" width="1" height="59" fill="#ff5050"/>
<rect x="952" y="534" width="1" height="66" fill="#ff5050"/>
<rect x="958" y="538" width="1" height="62" fill="#ff5050"/>
<rect x="965" y="534" width="1" height="66" fill="#ff5050"/>
<path d="M964 508h1v1h-1zM964 509h1v1h-1zM963 510h1v1h-1zM962 511h1v1h-1zM962 512h1v1h-1zM961 513h1v1h-1zM961 514h1v1h-1zM960 515h1v1h-1zM959 516h1v1h-1zM959 517h1v1h-1zM958 518h1v1h-1zM957 519h1v1h-1zM956 520h1v1h-1zM954 521h2v1h-2zM953 522h1v1h-1zM952 523h1v1h-1zM951 524h1v1h-1zM951 525h1v1h-1zM950 526h1v1h-1zM950 527h1v1h-1zM949 528h1v1h-1zM948 529h1v1h-1zM948 530h1v1h-1zM947 531h1v1h-1zM947 532h1v1h-1zM946 533h1v1h-1zM946 534h1v1h-1zM945 535h1v1h-1zM944 536h1v1h-1zM944 537h1v1h-1zM943 538h1v1h-1zM943 539h1v1h-1zM942 540h1v1h-1zM941 541h1v1h-1zM941 542h1v1h-1zM940 543h1v1h-1zM940 544h1v1h-1zM939 545h1v1h-1zM939 546h1v1h-1zM938 547h1v1h-1zM937 548h1v1h-1zM937 549h1v1h-1zM936 550h1v1h-1zM935 551h1v1h-1zM935 552h1v1h-1zM934 553h1v1h-1zM933 554h1v1h-1zM933 555h1v1h-1zM932 556h1v1h-1zM931 557h1v1h-1zM930 558h1v1h-1zM929 559h1v1h-1zM928 560h1v1h-1zM927 561h1v1h-1zM926 562h1v1h-1zM925 563h1v1h-1zM924 564h1v1h-1zM923 565h1v1h-1zM923 566h1v1h-1zM922 567h1v1h-1zM921 568h1v1h-1zM920 569h1v1h-1zM920 570h1v1h-1zM919 571h1v1h-1zM413 572h5v1h-5zM432 572h18v1h-18zM918 572h1v1h-1zM410 573h3v1h-3zM418 573h14v1h-14zM450 573h3v1h-3zM471 573h12v1h-12zM917 573h1v1h-1zM407 574h3v1h-3zM453 574h18v1h-18zM483 574h2v1h-2zM917 574h1v1h-1zM403 575h4v1h-4zM485 575h2v1h-2zM916 575h1v1h-1zM398 576h5v1h-5zM487 576h1v1h-1zM915 576h1v1h-1zM393 577h5v1h-5zM488 577h2v1h-2zM914 577h1v1h-1zM160 578h6v1h-6zM390 578h3v1h-3zM490 578h2v1h-2zM914 578h1v1h-1zM155 579h5v1h-5zM166 579h11v1h-11zM387 579h3v1h-3zM492 579h2v1h-2zM913 579h1v1h-1zM151 580h4v1h-4zM177 580h4v1h-4zM383 580h4v1h-4zM494 580h2v1h-2zM912 580h1v1h-1zM149 581h2v1h-2zM181 581h12v1h-12zM380 581h3v1h-3zM496 581h2v1h-2zM910 581h2v1h-2zM147 582h2v1h-2zM193 582h6v1h-6zM233 582h13v1h-13zM377 582h3v1h-3zM498 582h2v1h-2zM909 582h1v1h-1zM145 583h2v1h-2zM199 583h14v1h-14zM226 583h7v1h-7zM246 583h4v1h-4zM339 583h13v1h-13zM374 583h3v1h-3zM500 583h2v1h-2zM908 583h1v1h-1zM143 584h2v1h-2zM213 584h13v1h-13zM250 584h4v1h-4zM334 584h5v1h-5zM352 584h5v1h-5zM370 584h4v1h-4zM502 584h2v1h-2zM906 584h2v1h-2zM141 585h2v1h-2zM254 585h5v1h-5zM330 585h4v1h-4zM357 585h3v1h-3zM365 585h5v1h-5zM504 585h1v1h-1zM905 585h1v1h-1zM138 586h3v1h-3zM259 586h7v1h-7zM327 586h3v1h-3zM360 586h5v1h-5zM505 586h2v1h-2zM903 586h2v1h-2zM135 587h3v1h-3zM266 587h6v1h-6zM325 587h2v1h-2zM507 587h2v1h-2zM901 587h2v1h-2zM131 588h4v1h-4zM272 588h5v1h-5zM323 588h2v1h-2zM509 588h2v1h-2zM898 588h3v1h-3zM120 589h11v1h-11zM277 589h4v1h-4zM321 589h2v1h-2zM511 589h2v1h-2zM896 589h2v1h-2zM115 590h5v1h-5zM281 590h5v1h-5zM320 590h1v1h-1zM513 590h3v1h-3zM894 590h2v1h-2zM111 591h4v1h-4zM286 591h4v1h-4zM319 591h1v1h-1zM516 591h2v1h-2zM891 591h3v1h-3zM109 592h2v1h-2zM290 592h4v1h-4zM317 592h2v1h-2zM518 592h2v1h-2zM887 592h4v1h-4zM107 593h2v1h-2zM294 593h5v1h-5zM316 593h1v1h-1zM520 593h1v1h-1zM884 593h3v1h-3zM105 594h2v1h-2zM299 594h7v1h-7zM312 594h4v1h-4zM521 594h2v1h-2zM881 594h3v1h-3zM100 595h5v1h-5zM306 595h6v1h-6zM523 595h2v1h-2zM879 595h2v1h-2zM93 596h7v1h-7zM525 596h2v1h-2zM877 596h2v1h-2zM88 597h5v1h-5zM527 597h2v1h-2zM875 597h2v1h-2zM85 598h3v1h-3zM529 598h2v1h-2zM873 598h2v1h-2zM27 599h11v1h-11zM82 599h3v1h-3zM531 599h2v1h-2zM872 599h1v1h-1zM14 600h13v1h-13zM38 600h4v1h-4zM78 600h4v1h-4zM533 600h3v1h-3zM704 600h13v1h-13zM870 600h2v1h-2zM7 601h7v1h-7zM42 601h5v1h-5zM73 601h5v1h-5zM536 601h3v1h-3zM699 601h5v1h-5zM717 601h5v1h-5zM868 601h2v1h-2zM3 602h4v1h-4zM47 602h13v1h-13zM67 602h6v1h-6zM539 602h10v1h-10zM695 602h4v1h-4zM722 602h3v1h-3zM866 602h2v1h-2zM60 603h7v1h-7zM549 603h4v1h-4zM558 603h20v1h-20zM692 603h3v1h-3zM725 603h5v1h-5zM865 603h1v1h-1zM553 604h5v1h-5zM578 604h6v1h-6zM690 604h2v1h-2zM730 604h7v1h-7zM863 604h2v1h-2zM584 605h5v1h-5zM688 605h2v1h-2zM737 605h6v1h-6zM861 605h2v1h-2zM589 606h3v1h-3zM685 606h3v1h-3zM743 606h14v1h-14zM858 606h3v1h-3zM592 607h3v1h-3zM631 607h26v1h-26zM682 607h3v1h-3zM757 607h4v1h-4zM854 607h4v1h-4zM595 608h4v1h-4zM617 608h14v1h-14zM657 608h7v1h-7zM677 608h5v1h-5zM761 608h4v1h-4zM851 608h3v1h-3zM599 609h18v1h-18zM664 609h13v1h-13zM765 609h12v1h-12zM848 609h3v1h-3zM777 610h6v1h-6zM845 610h3v1h-3zM783 611h7v1h-7zM841 611h4v1h-4zM790 612h7v1h-7zM836 612h5v1h-5zM797 613h6v1h-6zM810 613h26v1h-26zM803 614h7v1h-7z" fill="#ffffff"/>
<path d="M964 541h1v1h-1zM963 542h1v1h-1zM962 543h1v1h-1zM961 544h1v1h-1zM961 545h1v1h-1zM960 546h1v1h-1zM959 547h1v1h-1zM958 548h1v1h-1zM957 549h1v1h-1zM956 550h1v1h-1zM956 551h1v1h-1zM955 552h1v1h-1zM954 553h1v1h-1zM953 554h1v1h-1zM953 555h1v1h-1zM952 556h1v1h-1zM951 557h1v1h-1zM950 558h1v1h-1zM949 559h1v1h-1zM948 560h1v1h-1zM948 561h1v1h-1zM947 562h1v1h-1zM946 563h1v1h-1zM945 564h1v1h-1zM944 565h1v1h-1zM943 566h1v1h-1zM942 567h1v1h-1zM941 568h1v1h-1zM940 569h1v1h-1zM939 570h1v1h-1zM938 571h1v1h-1zM937 572h1v1h-1zM936 573h1v1h-1zM445 574h46v1h-46zM935 574h1v1h-1zM432 575h13v1h-13zM491 575h5v1h-5zM934 575h1v1h-1zM425 576h7v1h-7zM496 576h4v1h-4zM933 576h1v1h-1zM418 577h7v1h-7zM500 577h3v1h-3zM932 577h1v1h-1zM412 578h6v1h-6zM503 578h3v1h-3zM931 578h1v1h-1zM407 579h5v1h-5zM506 579h3v1h-3zM930 579h1v1h-1zM403 580h4v1h-4zM509 580h4v1h-4zM928 580h2v1h-2zM398 581h5v1h-5zM513 581h3v1h-3zM927 581h1v1h-1zM179 582h34v1h-34zM393 582h5v1h-5zM516 582h2v1h-2zM926 582h1v1h-1zM173 583h6v1h-6zM213 583h46v1h-46zM390 583h3v1h-3zM518 583h2v1h-2zM925 583h1v1h-1zM166 584h7v1h-7zM259 584h13v1h-13zM385 584h5v1h-5zM520 584h2v1h-2zM924 584h1v1h-1zM161 585h5v1h-5zM272 585h7v1h-7zM372 585h13v1h-13zM522 585h4v1h-4zM923 585h1v1h-1zM158 586h3v1h-3zM279 586h7v1h-7zM352 586h20v1h-20zM526 586h3v1h-3zM921 586h2v1h-2zM155 587h3v1h-3zM286 587h6v1h-6zM345 587h7v1h-7zM529 587h2v1h-2zM920 587h1v1h-1zM151 588h4v1h-4zM292 588h7v1h-7zM339 588h6v1h-6zM531 588h2v1h-2zM919 588h1v1h-1zM148 589h3v1h-3zM299 589h7v1h-7zM332 589h7v1h-7zM533 589h3v1h-3zM917 589h2v1h-2zM144 590h4v1h-4zM306 590h6v1h-6zM325 590h7v1h-7zM536 590h2v1h-2zM915 590h2v1h-2zM140 591h4v1h-4zM312 591h13v1h-13zM538 591h2v1h-2zM913 591h2v1h-2zM133 592h7v1h-7zM540 592h2v1h-2zM911 592h2v1h-2zM128 593h5v1h-5zM542 593h4v1h-4zM909 593h2v1h-2zM124 594h4v1h-4zM546 594h3v1h-3zM907 594h2v1h-2zM120 595h4v1h-4zM549 595h4v1h-4zM904 595h3v1h-3zM113 596h7v1h-7zM553 596h5v1h-5zM901 596h3v1h-3zM107 597h6v1h-6zM558 597h6v1h-6zM898 597h3v1h-3zM100 598h7v1h-7zM564 598h7v1h-7zM896 598h2v1h-2zM93 599h7v1h-7zM571 599h7v1h-7zM894 599h2v1h-2zM27 600h20v1h-20zM87 600h6v1h-6zM578 600h6v1h-6zM891 600h3v1h-3zM3 601h24v1h-24zM47 601h40v1h-40zM584 601h7v1h-7zM887 601h4v1h-4zM591 602h4v1h-4zM884 602h3v1h-3zM595 603h4v1h-4zM710 603h33v1h-33zM881 603h3v1h-3zM599 604h5v1h-5zM704 604h6v1h-6zM743 604h14v1h-14zM878 604h3v1h-3zM604 605h7v1h-7zM699 605h5v1h-5zM757 605h6v1h-6zM876 605h2v1h-2zM611 606h20v1h-20zM695 606h4v1h-4zM763 606h14v1h-14zM874 606h2v1h-2zM631 607h39v1h-39zM684 607h11v1h-11zM777 607h6v1h-6zM869 607h5v1h-5zM670 608h14v1h-14zM783 608h7v1h-7zM864 608h5v1h-5zM790 609h7v1h-7zM861 609h3v1h-3zM797 610h6v1h-6zM856 610h5v1h-5zM803 611h20v1h-20zM843 611h13v1h-13zM823 612h20v1h-20z" fill="#ffff00"/>
<text x="0.4" y="12.3" font-family='"Liberation Sans", "Noto Sans CJK SC", sans-serif' font-size="11.6" fill="#ffff00" stroke="#ffff00" stroke-width="0.55" textLength="47">上证指数</text>
<text x="2.6 8.6 14.6 20.6 26.6 32.6" y="26" text-anchor="middle" font-family='"Liberation Sans", sans-serif' font-size="11" fill="#54ffc8">1<tspan font-family='"Liberation Mono", monospace' font-size="11">A</tspan>0001</text>
<text x="44.6 50.6 56.6 62.6 68.6 74.6 80.6 86.6 92.6 98.6" y="26" text-anchor="middle" font-family='"Liberation Sans", sans-serif' font-size="11" fill="#c0c0c0">2007/04/30</text>
<text x="108" y="26" font-family='"Liberation Sans", "Noto Sans CJK SC", sans-serif' font-size="12" fill="#ff5050">开</text>
<text x="122.6 128.6 134.6 140.6 146.6 152.6 158.6" y="26" text-anchor="middle" font-family='"Liberation Sans", sans-serif' font-size="11" fill="#ff5050">3196.59</text>
<text x="167.5" y="26.5" text-anchor="middle" font-family='"Noto Sans CJK SC", "WenQuanYi Zen Hei", sans-serif' font-size="12" textLength="9" lengthAdjust="spacingAndGlyphs" fill="#ff5050">↑</text>
<text x="174" y="26" font-family='"Liberation Sans", "Noto Sans CJK SC", sans-serif' font-size="12" fill="#ff5050">高</text>
<text x="188.6 194.6 200.6 206.6 212.6 218.6 224.6" y="26" text-anchor="middle" font-family='"Liberation Sans", sans-serif' font-size="11" fill="#ff5050">3851.35</text>
<text x="233.5" y="26.5" text-anchor="middle" font-family='"Noto Sans CJK SC", "WenQuanYi Zen Hei", sans-serif' font-size="12" textLength="9" lengthAdjust="spacingAndGlyphs" fill="#ff5050">↑</text>
<text x="240" y="26" font-family='"Liberation Sans", "Noto Sans CJK SC", sans-serif' font-size="12" fill="#ff5050">低</text>
<text x="254.6 260.6 266.6 272.6 278.6 284.6 290.6" y="26" text-anchor="middle" font-family='"Liberation Sans", sans-serif' font-size="11" fill="#ff5050">3196.59</text>
<text x="299.5" y="26.5" text-anchor="middle" font-family='"Noto Sans CJK SC", "WenQuanYi Zen Hei", sans-serif' font-size="12" textLength="9" lengthAdjust="spacingAndGlyphs" fill="#ff5050">↑</text>
<text x="306" y="26" font-family='"Liberation Sans", "Noto Sans CJK SC", sans-serif' font-size="12" fill="#ff5050">收</text>
<text x="320.6 326.6 332.6 338.6 344.6 350.6 356.6" y="26" text-anchor="middle" font-family='"Liberation Sans", sans-serif' font-size="11" fill="#ff5050">3841.27</text>
<text x="365.5" y="26.5" text-anchor="middle" font-family='"Noto Sans CJK SC", "WenQuanYi Zen Hei", sans-serif' font-size="12" textLength="9" lengthAdjust="spacingAndGlyphs" fill="#ff5050">↑</text>
<text x="372" y="26" font-family='"Liberation Sans", "Noto Sans CJK SC", sans-serif' font-size="12" fill="#c0c0c0">量</text>
<text x="386.6 392.6 398.6 404.6 410.6 416.6 422.6 428.6 434.6 440.6" y="26" text-anchor="middle" font-family='"Liberation Sans", sans-serif' font-size="11" fill="#c0c0c0">3114852096</text>
<text x="449.5" y="26.5" text-anchor="middle" font-family='"Noto Sans CJK SC", "WenQuanYi Zen Hei", sans-serif' font-size="12" textLength="9" lengthAdjust="spacingAndGlyphs" fill="#c0c0c0">↑</text>
<text x="456" y="26" font-family='"Liberation Sans", "Noto Sans CJK SC", sans-serif' font-size="12" fill="#c0c0c0">额</text>
<text x="470.6 476.6 482.6 488.6 494.6 500.6 506.6 512.6 518.6" y="26" text-anchor="middle" font-family='"Liberation Sans", sans-serif' font-size="11" fill="#c0c0c0">323654592</text>
<text x="527.5" y="26.5" text-anchor="middle" font-family='"Noto Sans CJK SC", "WenQuanYi Zen Hei", sans-serif' font-size="12" textLength="9" lengthAdjust="spacingAndGlyphs" fill="#c0c0c0">↑</text>
<text x="534" y="26" font-family='"Liberation Sans", "Noto Sans CJK SC", sans-serif' font-size="12" fill="#c0c0c0">换</text>
<text x="548.6 554.6 560.6 566.6 572.6" y="26" text-anchor="middle" font-family='"Liberation Sans", sans-serif' font-size="11" fill="#c0c0c0">0.00<tspan font-family='"Liberation Mono", monospace' font-size="11">%</tspan></text>
<text x="582" y="26" font-family='"Liberation Sans", "Noto Sans CJK SC", sans-serif' font-size="12" fill="#c0c0c0">振</text>
<text x="596.6 602.6 608.6 614.6 620.6 626.6" y="26" text-anchor="middle" font-family='"Liberation Sans", sans-serif' font-size="11" fill="#c0c0c0">20.56<tspan font-family='"Liberation Mono", monospace' font-size="11">%</tspan></text>
<text x="636" y="26" font-family='"Liberation Sans", "Noto Sans CJK SC", sans-serif' font-size="12" fill="#ff5050">涨</text>
<text x="650.6 656.6 662.6 668.6 674.6 680.6 686.6 692.6 698.6 704.6 710.6 716.6 722.6 728.6" y="26" text-anchor="middle" font-family='"Liberation Sans", sans-serif' font-size="11" fill="#ff5050">(657.29)20.64<tspan font-family='"Liberation Mono", monospace' font-size="11">%</tspan></text>
<text x="738" y="26" font-family='"Liberation Sans", "Noto Sans CJK SC", sans-serif' font-size="12" fill="#ff5050">指数</text>
<text x="764.6 770.6 776.6 782.6 788.6 794.6 800.6 806.6 812.6 818.6 824.6 830.6 836.6 842.6" y="26" text-anchor="middle" font-family='"Liberation Sans", sans-serif' font-size="11" fill="#ff5050">(657.29)20.64<tspan font-family='"Liberation Mono", monospace' font-size="11">%</tspan></text>
<text x="2.6 8.6 14.6 20.6 26.6 32.6 38.6 44.6 50.6 56.6 62.6 68.6 74.6" y="502" text-anchor="middle" font-family='"Liberation Sans", sans-serif' font-size="11" fill="#c0c0c0"><tspan font-family='"Liberation Mono", monospace' font-size="11">MACD</tspan>(26,12,9)</text>
<text x="86.6 92.6 98.6 104.6 110.6 116.6 122.6 128.6 134.6 140.6 146.6 152.6" y="502" text-anchor="middle" font-family='"Liberation Sans", sans-serif' font-size="11" fill="#ffffff"><tspan font-family='"Liberation Mono", monospace' font-size="11">DIFF</tspan>:491.079</text>
<text x="161.5" y="502.5" text-anchor="middle" font-family='"Noto Sans CJK SC", "WenQuanYi Zen Hei", sans-serif' font-size="12" textLength="9" lengthAdjust="spacingAndGlyphs" fill="#ffffff">↑</text>
<text x="170.6 176.6 182.6 188.6 194.6 200.6 206.6 212.6 218.6 224.6 230.6" y="502" text-anchor="middle" font-family='"Liberation Sans", sans-serif' font-size="11" fill="#ffff00"><tspan font-family='"Liberation Mono", monospace' font-size="11">DEA</tspan>:265.870</text>
<text x="239.5" y="502.5" text-anchor="middle" font-family='"Noto Sans CJK SC", "WenQuanYi Zen Hei", sans-serif' font-size="12" textLength="9" lengthAdjust="spacingAndGlyphs" fill="#ffff00">↑</text>
<text x="248.6 254.6 260.6 266.6 272.6 278.6 284.6 290.6 296.6 302.6 308.6 314.6" y="502" text-anchor="middle" font-family='"Liberation Sans", sans-serif' font-size="11" fill="#ff00ff"><tspan font-family='"Liberation Mono", monospace' font-size="11">MACD</tspan>:450.418</text>
<text x="323.5" y="502.5" text-anchor="middle" font-family='"Noto Sans CJK SC", "WenQuanYi Zen Hei", sans-serif' font-size="12" textLength="9" lengthAdjust="spacingAndGlyphs" fill="#ff00ff">↑</text>
</svg></body></html>
